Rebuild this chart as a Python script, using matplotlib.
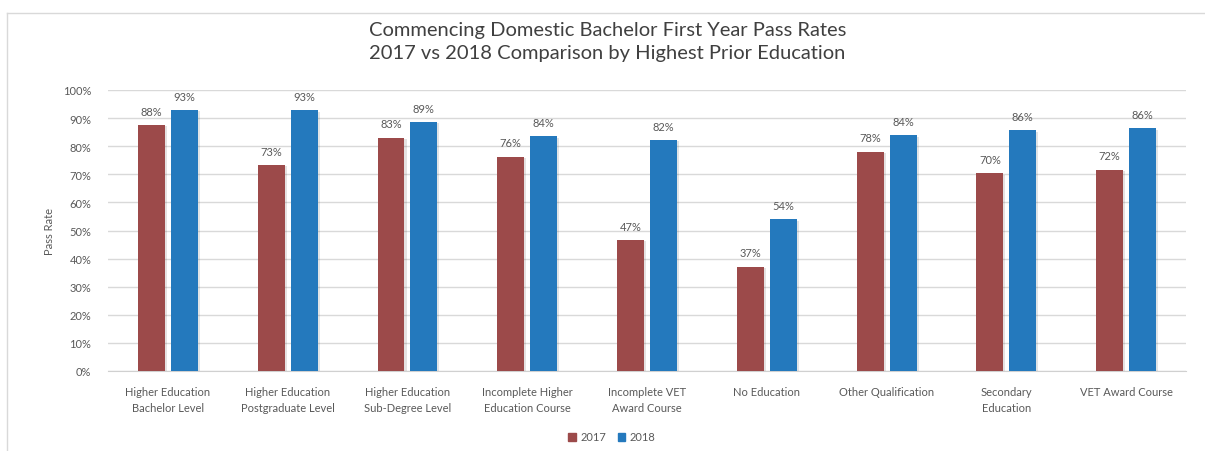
import numpy as np
import matplotlib.pyplot as plt
import matplotlib.patheffects as pe
from matplotlib.lines import Line2D
from matplotlib.patches import Patch

categories = ["Higher Education\nBachelor Level", "Higher Education\nPostgraduate Level",
              "Higher Education\nSub-Degree Level", "Incomplete Higher\nEducation Course",
              "Incomplete VET\nAward Course", "No Education", "Other Qualification",
              "Secondary\nEducation", "VET Award Course"]
rate_2017 = [87.6, 73.3, 83.0, 76.3, 46.6, 37.1, 78.0, 70.3, 71.6]
rate_2018 = [92.9, 92.8, 88.6, 83.5, 82.2, 54.0, 83.9, 85.6, 86.4]
years = ["2017", "2018"]

plt.rcParams['font.family'] = ['Lato', 'DejaVu Sans']
txt = "#595959"
red = "#9c4a4a"
blue = "#2479bd"

fig = plt.figure(figsize=(12.05, 4.52), dpi=100)
ax = fig.add_axes([108 / 1205, 1 - 372 / 452, (1186 - 108) / 1205, (372 - 91) / 452])

# light frame (top and left edges) of the Excel chart object
y_top = 1 - 14 / 452
x_left = 7 / 1205
fig.lines.append(Line2D([x_left, 1], [y_top, y_top], transform=fig.transFigure, color="#d9d9d9", lw=1))
fig.lines.append(Line2D([x_left, x_left], [0, y_top], transform=fig.transFigure, color="#d9d9d9", lw=1))

x = np.arange(len(categories))
w = 0.225
shadow = [pe.SimplePatchShadow(offset=(1.5, -1), alpha=0.12), pe.Normal()]
b1 = ax.bar(x - 0.1375, rate_2017, w, color=red, zorder=3)
b2 = ax.bar(x + 0.1375, rate_2018, w, color=blue, zorder=3)
for bars in (b1, b2):
    for b in bars:
        b.set_path_effects(shadow)
    ax.bar_label(bars, labels=[f"{v:.0f}%" for v in bars.datavalues], padding=6,
                 fontsize=8, color=txt)

ax.set_xlim(-0.5, len(categories) - 0.5)
ax.set_ylim(0, 100)
ax.set_yticks(np.arange(0, 101, 10))
ax.set_yticklabels([f"{v}%" for v in range(0, 101, 10)])
ax.set_xticks(x)
ax.set_xticklabels(categories, fontsize=8, color=txt, linespacing=1.5)
ax.tick_params(axis='y', labelsize=8, labelcolor=txt, length=0, pad=12)
ax.tick_params(axis='x', length=0, pad=11)
ax.grid(axis='y', color="#d9d9d9", lw=1, zorder=0)
for s in ("top", "right", "left"):
    ax.spines[s].set_visible(False)
ax.spines["bottom"].set_color("#d0d0d0")
ax.set_ylabel("Pass Rate", fontsize=8, color=txt, labelpad=6)

fig.text(0.504, 1 - 42 / 452, "Commencing Domestic Bachelor First Year Pass Rates\n"
         "2017 vs 2018 Comparison by Highest Prior Education",
         ha="center", va="center", fontsize=14.5, color="#404040", linespacing=1.4)

handles = [Patch(color=red, label=years[0]), Patch(color=blue, label=years[1])]
fig.legend(handles=handles, loc="center", bbox_to_anchor=(612 / 1205, 1 - 438 / 452), ncol=2,
           frameon=False, fontsize=8, labelcolor=txt, handlelength=0.7, handleheight=0.7,
           handletextpad=0.4, columnspacing=1.0)

plt.savefig("out.png", dpi=100)
